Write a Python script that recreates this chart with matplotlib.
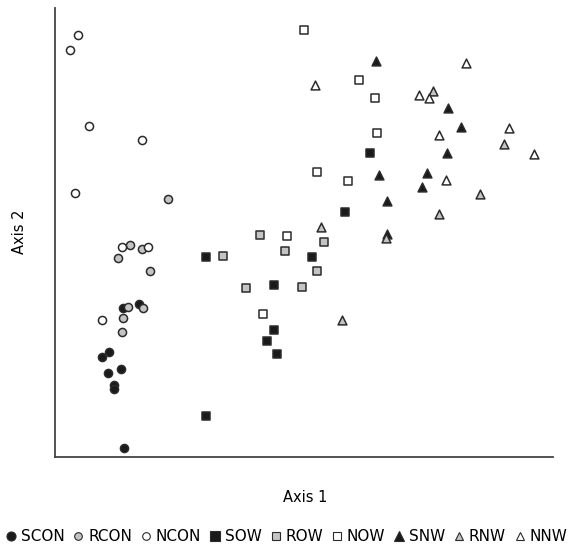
import matplotlib.pyplot as plt
from matplotlib.lines import Line2D

# ordination scores (arbitrary units)
scon_x = [68, 84, 54, 47, 66, 53, 59, 59, 69]
scon_y = [149, 153, 105, 100, 88, 84, 72, 68, 9]
rcon_x = [75, 87, 63, 95, 73, 88, 68, 67, 113]
rcon_y = [212, 208, 199, 186, 150, 149, 139, 125, 258]
ncon_x = [23, 15, 34, 87, 20, 67, 93, 47]
ncon_y = [422, 407, 331, 317, 264, 210, 210, 137]

sow_x = [151, 257, 219, 219, 212, 222, 151, 315, 290]
sow_y = [200, 200, 172, 127, 116, 103, 41, 304, 245]
row_x = [168, 205, 230, 269, 262, 191, 247]
row_y = [201, 222, 206, 215, 186, 169, 170]
now_x = [249, 304, 320, 322, 262, 293, 232, 208]
now_y = [427, 377, 359, 324, 285, 276, 221, 143]

snw_x = [321, 393, 406, 392, 324, 372, 367, 332, 332]
snw_y = [396, 349, 330, 304, 282, 284, 270, 256, 223]
rnw_x = [378, 449, 425, 384, 266, 331, 287]
rnw_y = [366, 313, 263, 243, 230, 219, 137]
nnw_x = [411, 260, 364, 374, 454, 384, 479, 391]
nnw_y = [394, 372, 362, 359, 329, 322, 303, 277]

black = '#1a1a1a'
grey = '#c4c4c4'
edge = '#2b2b2b'

groups = [
    ('SCON', scon_x, scon_y, 'o', black),
    ('RCON', rcon_x, rcon_y, 'o', grey),
    ('NCON', ncon_x, ncon_y, 'o', 'white'),
    ('SOW', sow_x, sow_y, 's', black),
    ('ROW', row_x, row_y, 's', grey),
    ('NOW', now_x, now_y, 's', 'white'),
    ('SNW', snw_x, snw_y, '^', black),
    ('RNW', rnw_x, rnw_y, '^', grey),
    ('NNW', nnw_x, nnw_y, '^', 'white'),
]

fig = plt.figure(figsize=(5.74, 5.49), dpi=100)
ax = fig.add_axes([0.0958, 0.1676, 0.867, 0.8178])

for name, xs, ys, m, fc in groups:
    ax.scatter(xs, ys, marker=m, s=34 if m != '^' else 40, facecolor=fc,
               edgecolor=edge, linewidth=1.1, zorder=3)

ax.set_xlim(0, 498)
ax.set_ylim(0, 449)
ax.set_xticks([])
ax.set_yticks([])
for s in ['top', 'right']:
    ax.spines[s].set_visible(False)
for s in ['left', 'bottom']:
    ax.spines[s].set_color('#444444')
    ax.spines[s].set_linewidth(1.3)

fig.text(0.531, 0.093, 'Axis 1', ha='center', va='center', fontsize=10.5)
fig.text(0.034, 0.577, 'Axis 2', ha='center', va='center', fontsize=10.5,
         rotation=90)

handles = []
for name, xs, ys, m, fc in groups:
    handles.append(Line2D([], [], linestyle='none', marker=m,
                          markersize=6.5 if fc == black else 5.5,
                          markerfacecolor=fc, markeredgecolor=edge,
                          markeredgewidth=0.8, label=name))
fig.legend(handles=handles, loc='center', bbox_to_anchor=(0.5, 0.023),
           ncol=9, frameon=False, fontsize=11, handlelength=0.6,
           handletextpad=0.35, columnspacing=0.6, borderaxespad=0)

fig.savefig('out.png', dpi=100)
